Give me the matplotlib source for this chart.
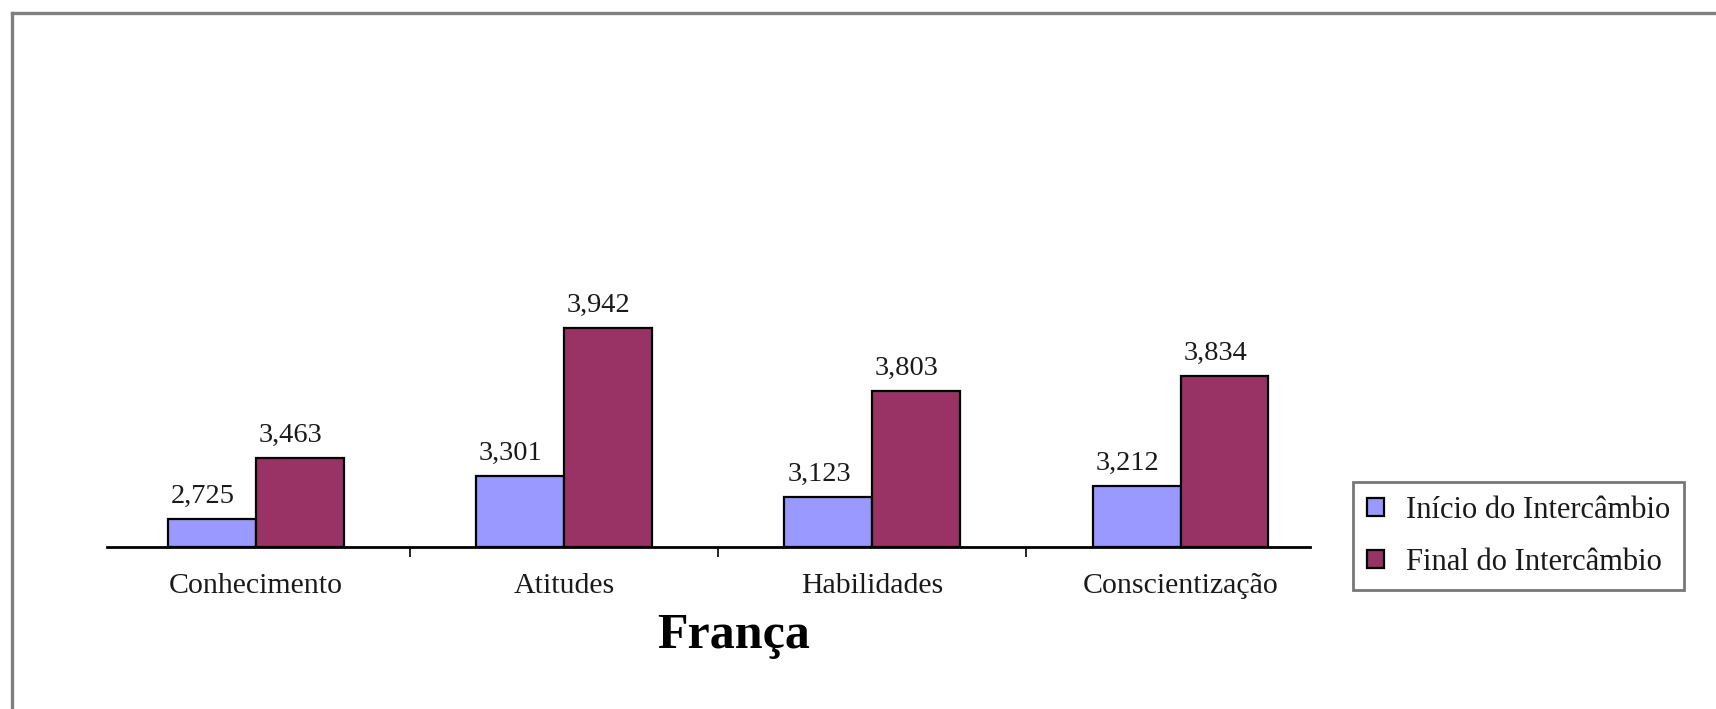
import matplotlib.pyplot as plt
from matplotlib.lines import Line2D


categories = ["Conhecimento", "Atitudes", "Habilidades", "Conscientização"]
series_names = ["Início do Intercâmbio", "Final do Intercâmbio"]

# values printed above the bars
inicio_values = [2.725, 3.301, 3.123, 3.212]
final_values = [3.463, 3.942, 3.803, 3.834]

# bar heights as drawn in the picture (the drawn scale does not follow
# the printed numbers, so they are kept apart)
inicio_heights = [0.28, 0.71, 0.50, 0.61]
final_heights = [0.89, 2.19, 1.56, 1.71]

title = "França"

COLORS = {
    "inicio": "#9999ff",
    "final": "#993366",
    "frame": "#808080",
}


def fmt(v):
    return f"{v:.3f}".replace(".", ",")


def main():
    plt.rcParams["font.family"] = ["Liberation Serif", "DejaVu Serif"]

    fig = plt.figure(figsize=(17.16, 7.09), dpi=100)
    ax = fig.add_axes([107 / 1716, 162 / 709, 1203 / 1716, 300 / 709])

    x = list(range(len(categories)))
    width = 0.285

    bars_a = ax.bar(
        [i - width / 2 for i in x],
        inicio_heights,
        width=width,
        color=COLORS["inicio"],
        edgecolor="black",
        linewidth=1.6,
        label=series_names[0],
    )
    bars_b = ax.bar(
        [i + width / 2 for i in x],
        final_heights,
        width=width,
        color=COLORS["final"],
        edgecolor="black",
        linewidth=1.6,
        label=series_names[1],
    )

    for bars, vals in ((bars_a, inicio_values), (bars_b, final_values)):
        for bar, val in zip(bars, vals):
            ax.annotate(
                fmt(val),
                (bar.get_x() + bar.get_width() / 2 - 0.03, bar.get_height()),
                xytext=(0, 7),
                textcoords="offset points",
                ha="center",
                va="bottom",
                fontsize=20.5,
                color="#1a1a1a",
            )

    ax.set_xlim(-0.483, 3.42)
    ax.set_ylim(0, 3)

    for side in ("left", "right", "top"):
        ax.spines[side].set_visible(False)
    ax.spines["bottom"].set_linewidth(2)
    ax.set_yticks([])

    ax.set_xticks(x)
    ax.set_xticklabels(categories, fontsize=21.5, color="#1a1a1a")
    ax.tick_params(axis="x", which="major", length=0, pad=19)
    ax.set_xticks([0.5, 1.5, 2.5], minor=True)
    ax.tick_params(axis="x", which="minor", length=7, width=1.2, direction="out")

    fig.text(734 / 1716, 61 / 709, title, ha="center", va="baseline",
             fontsize=36, fontweight="bold")

    leg = fig.legend(
        loc="upper left",
        bbox_to_anchor=(1353 / 1716, 1 - 482 / 709),
        bbox_transform=fig.transFigure,
        fontsize=22,
        frameon=True,
        fancybox=False,
        borderaxespad=0,
        borderpad=0.45,
        handlelength=0.55,
        handleheight=0.55,
        handletextpad=0.75,
        labelspacing=0.75,
    )
    leg.get_frame().set_edgecolor("#555555")
    leg.get_frame().set_linewidth(2)
    for t in leg.get_texts():
        t.set_color("#1a1a1a")

    # outer frame (only top and left edges show in the picture)
    fig.add_artist(Line2D([12 / 1716, 1], [1 - 13 / 709, 1 - 13 / 709],
                          color=COLORS["frame"], linewidth=2.4,
                          transform=fig.transFigure))
    fig.add_artist(Line2D([12 / 1716, 12 / 1716], [0, 1 - 13 / 709],
                          color=COLORS["frame"], linewidth=2.4,
                          transform=fig.transFigure))

    fig.savefig("out.png", dpi=100)
    plt.close(fig)


if __name__ == "__main__":
    main()
